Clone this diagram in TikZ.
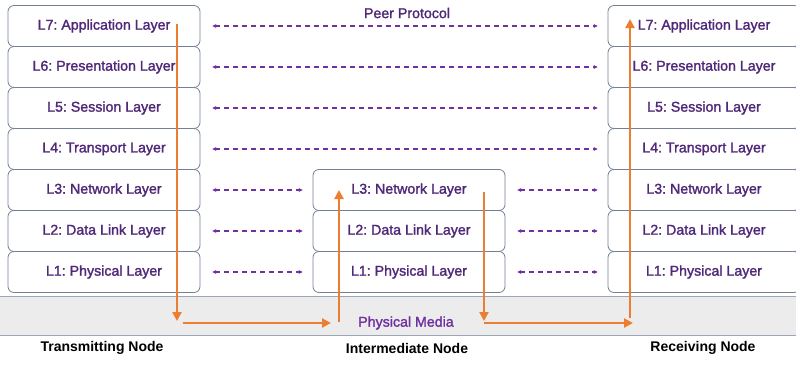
\documentclass[tikz,border=0pt]{standalone}
\usepackage{fontspec}
\setmainfont{Liberation Sans}
\newfontfamily\layfont[FakeBold=1.6]{Liberation Sans}
\usepackage{tikz}
\usetikzlibrary{arrows.meta}
\definecolor{peer}{RGB}{112,48,160}
\definecolor{ltext}{RGB}{80,40,120}
\definecolor{flow}{RGB}{237,125,49}
\definecolor{frame}{RGB}{115,128,150}
\frenchspacing

\begin{document}
\begin{tikzpicture}[
    x=1pt,y=-1pt,
    layer/.style={draw=frame,line width=0.8pt,rounded corners=6pt,fill=white,minimum width=192pt,
      minimum height=41pt,inner sep=0pt,text=ltext,font=\layfont\fontsize{14.2}{16}\selectfont},
    peerline/.style={peer,line width=1.1pt,dash pattern=on 5pt off 4pt,
      {Stealth[length=4pt,width=4pt]}-{Stealth[length=4pt,width=4pt]},
      shorten <=12pt,shorten >=10pt},
    flowline/.style={flow,line width=2.8pt,-{Triangle[length=9pt,width=9pt]}},
    caption/.style={font=\bfseries\fontsize{14}{16}\selectfont}
    ]
    \useasboundingbox (0,0) rectangle (796,365);
    % physical media band
    \fill[gray!15] (0,296) rectangle (796,335);
    \draw[frame!70] (0,296) -- (796,296);
    \draw[frame!70] (0,335) -- (796,335);
    \node[text=peer,font=\layfont\fontsize{14.2}{16}\selectfont] (media) at (406,323) {Physical Media};
    \node[text=ltext,font=\layfont\fontsize{14.2}{16}\selectfont] (peer) at (407,13) {Peer Protocol};

    % transmitting node
    \node[layer] (t7) at (104,26) {L7: Application Layer};
    \node[layer] (t6) at (104,67) {L6: Presentation Layer};
    \node[layer] (t5) at (104,108) {L5: Session Layer};
    \node[layer] (t4) at (104,149) {L4: Transport Layer};
    \node[layer] (t3) at (104,190) {L3: Network Layer};
    \node[layer] (t2) at (104,231) {L2: Data Link Layer};
    \node[layer] (t1) at (104,272) {L1: Physical Layer};
    % intermediate node
    \node[layer] (m3) at (409,190) {L3: Network Layer};
    \node[layer] (m2) at (409,231) {L2: Data Link Layer};
    \node[layer] (m1) at (409,272) {L1: Physical Layer};
    % receiving node
    \node[layer] (r7) at (704,26) {L7: Application Layer};
    \node[layer] (r6) at (704,67) {L6: Presentation Layer};
    \node[layer] (r5) at (704,108) {L5: Session Layer};
    \node[layer] (r4) at (704,149) {L4: Transport Layer};
    \node[layer] (r3) at (704,190) {L3: Network Layer};
    \node[layer] (r2) at (704,231) {L2: Data Link Layer};
    \node[layer] (r1) at (704,272) {L1: Physical Layer};

    % peer protocol
    \draw[peerline] (t7) -- (r7);
    \draw[peerline] (t6) -- (r6);
    \draw[peerline] (t5) -- (r5);
    \draw[peerline] (t4) -- (r4);
    \draw[peerline] (t3) -- (m3);
    \draw[peerline] (t2) -- (m2);
    \draw[peerline] (t1) -- (m1);
    \draw[peerline] (m3) -- (r3);
    \draw[peerline] (m2) -- (r2);
    \draw[peerline] (m1) -- (r1);

    % data flow
    \coordinate (a) at (177,24);
    \coordinate (b) at (177,321);
    \coordinate (c) at (183,323);
    \coordinate (d) at (331,323);
    \coordinate (e) at (339,322);
    \coordinate (f) at (339,190);
    \coordinate (g) at (484,192);
    \coordinate (h) at (484,321);
    \coordinate (i) at (484,323);
    \coordinate (j) at (633,323);
    \coordinate (k) at (630,318);
    \coordinate (l) at (630,19);
    \draw[flowline] (a) -- (b);
    \draw[flowline] (c) -- (d);
    \draw[flowline] (e) -- (f);
    \draw[flowline] (g) -- (h);
    \draw[flowline] (i) -- (j);
    \draw[flowline] (k) -- (l);

    \node[caption] (tx) at (102,348) {Transmitting Node};
    \node[caption] (mx) at (407,348) {Intermediate Node};
    \node[caption] (rx) at (703,348) {Receiving Node};
  \end{tikzpicture}
\end{document}
